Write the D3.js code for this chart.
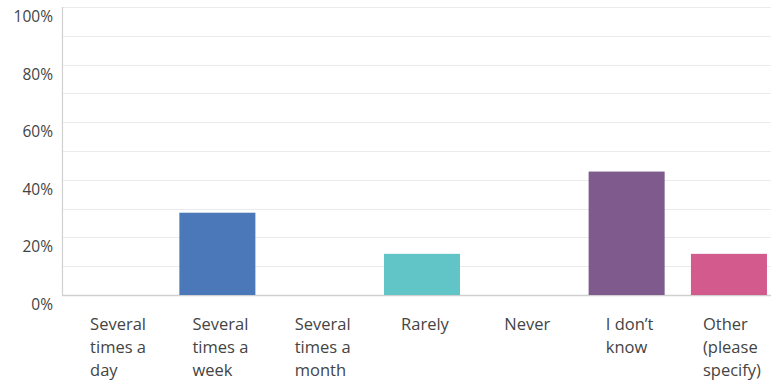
<!DOCTYPE html>
<html>
<head>
<meta charset="utf-8">
<script src="https://cdn.jsdelivr.net/npm/d3@7"></script>
<style>
  html, body { margin: 0; padding: 0; background: #fff; }
  svg { display: block; }
  text { font-family: "Open Sans", "DejaVu Sans", sans-serif; }
</style>
</head>
<body>
<svg id="chart" width="771" height="385"></svg>
<script>
// Answer categories, each split into the lines it is printed on
const categories = [
  ["Several", "times a", "day"],
  ["Several", "times a", "week"],
  ["Several", "times a", "month"],
  ["Rarely"],
  ["Never"],
  ["I don\u2019t", "know"],
  ["Other", "(please", "specify)"]
];
// Share of responses (percent)
const values = [0, 28.57, 0, 14.29, 0, 42.86, 14.29];
const barColors = ["#4a78b8", "#4a78b8", "#4a78b8", "#61c5c8", "#61c5c8", "#7e5a8d", "#d25a8c"];
const yTicks = [0, 20, 40, 60, 80, 100];
const gridTicks = [0, 10, 20, 30, 40, 50, 60, 70, 80, 90, 100];

const svg = d3.select("#chart");
const plotLeft = 62, plotTop = 7, plotBottom = 295;

const x = d3.scaleBand()
  .domain(d3.range(categories.length))
  .range([plotLeft, 782])
  .paddingInner(0.257)
  .paddingOuter(0.147);

const y = d3.scaleLinear().domain([0, 100]).range([plotBottom, plotTop]);

// horizontal grid
svg.append("g")
  .selectAll("line")
  .data(gridTicks)
  .join("line")
  .attr("x1", plotLeft)
  .attr("x2", 771)
  .attr("y1", d => Math.round(y(d)) + 0.5)
  .attr("y2", d => Math.round(y(d)) + 0.5)
  .attr("stroke", d => d === 0 ? "#d0d0d0" : "#ebebeb")
  .attr("stroke-width", d => d === 0 ? 1.5 : 1.2);

// vertical axis line
svg.append("line")
  .attr("x1", plotLeft + 0.5).attr("x2", plotLeft + 0.5)
  .attr("y1", plotTop).attr("y2", plotBottom + 1)
  .attr("stroke", "#d0d0d0")
  .attr("stroke-width", 1.2);

// y tick labels
svg.append("g")
  .selectAll("text")
  .data(yTicks)
  .join("text")
  .attr("x", 53)
  .attr("y", d => y(d) + 15)
  .attr("text-anchor", "end")
  .attr("font-size", 15.5)
  .attr("fill", "#444")
  .text(d => d + "%");

// bars
svg.append("g")
  .selectAll("rect")
  .data(values)
  .join("rect")
  .attr("x", (d, i) => x(i))
  .attr("width", x.bandwidth())
  .attr("y", d => y(d))
  .attr("height", d => plotBottom - y(d))
  .attr("fill", (d, i) => barColors[i]);

// category labels: left-aligned lines, block centred under the bar
const labelGroups = svg.append("g")
  .selectAll("text")
  .data(categories)
  .join("text")
  .attr("font-size", 16.5)
  .attr("fill", "#444");

labelGroups.each(function(lines, i) {
  const t = d3.select(this);
  lines.forEach((line, j) => {
    t.append("tspan").attr("y", 330 + j * 23).text(line);
  });
  let maxW = 0;
  t.selectAll("tspan").each(function() {
    maxW = Math.max(maxW, this.getComputedTextLength());
  });
  const x0 = x(i) + x.bandwidth() / 2 - maxW / 2 + 3;
  t.selectAll("tspan").attr("x", x0);
});
</script>
</body>
</html>
